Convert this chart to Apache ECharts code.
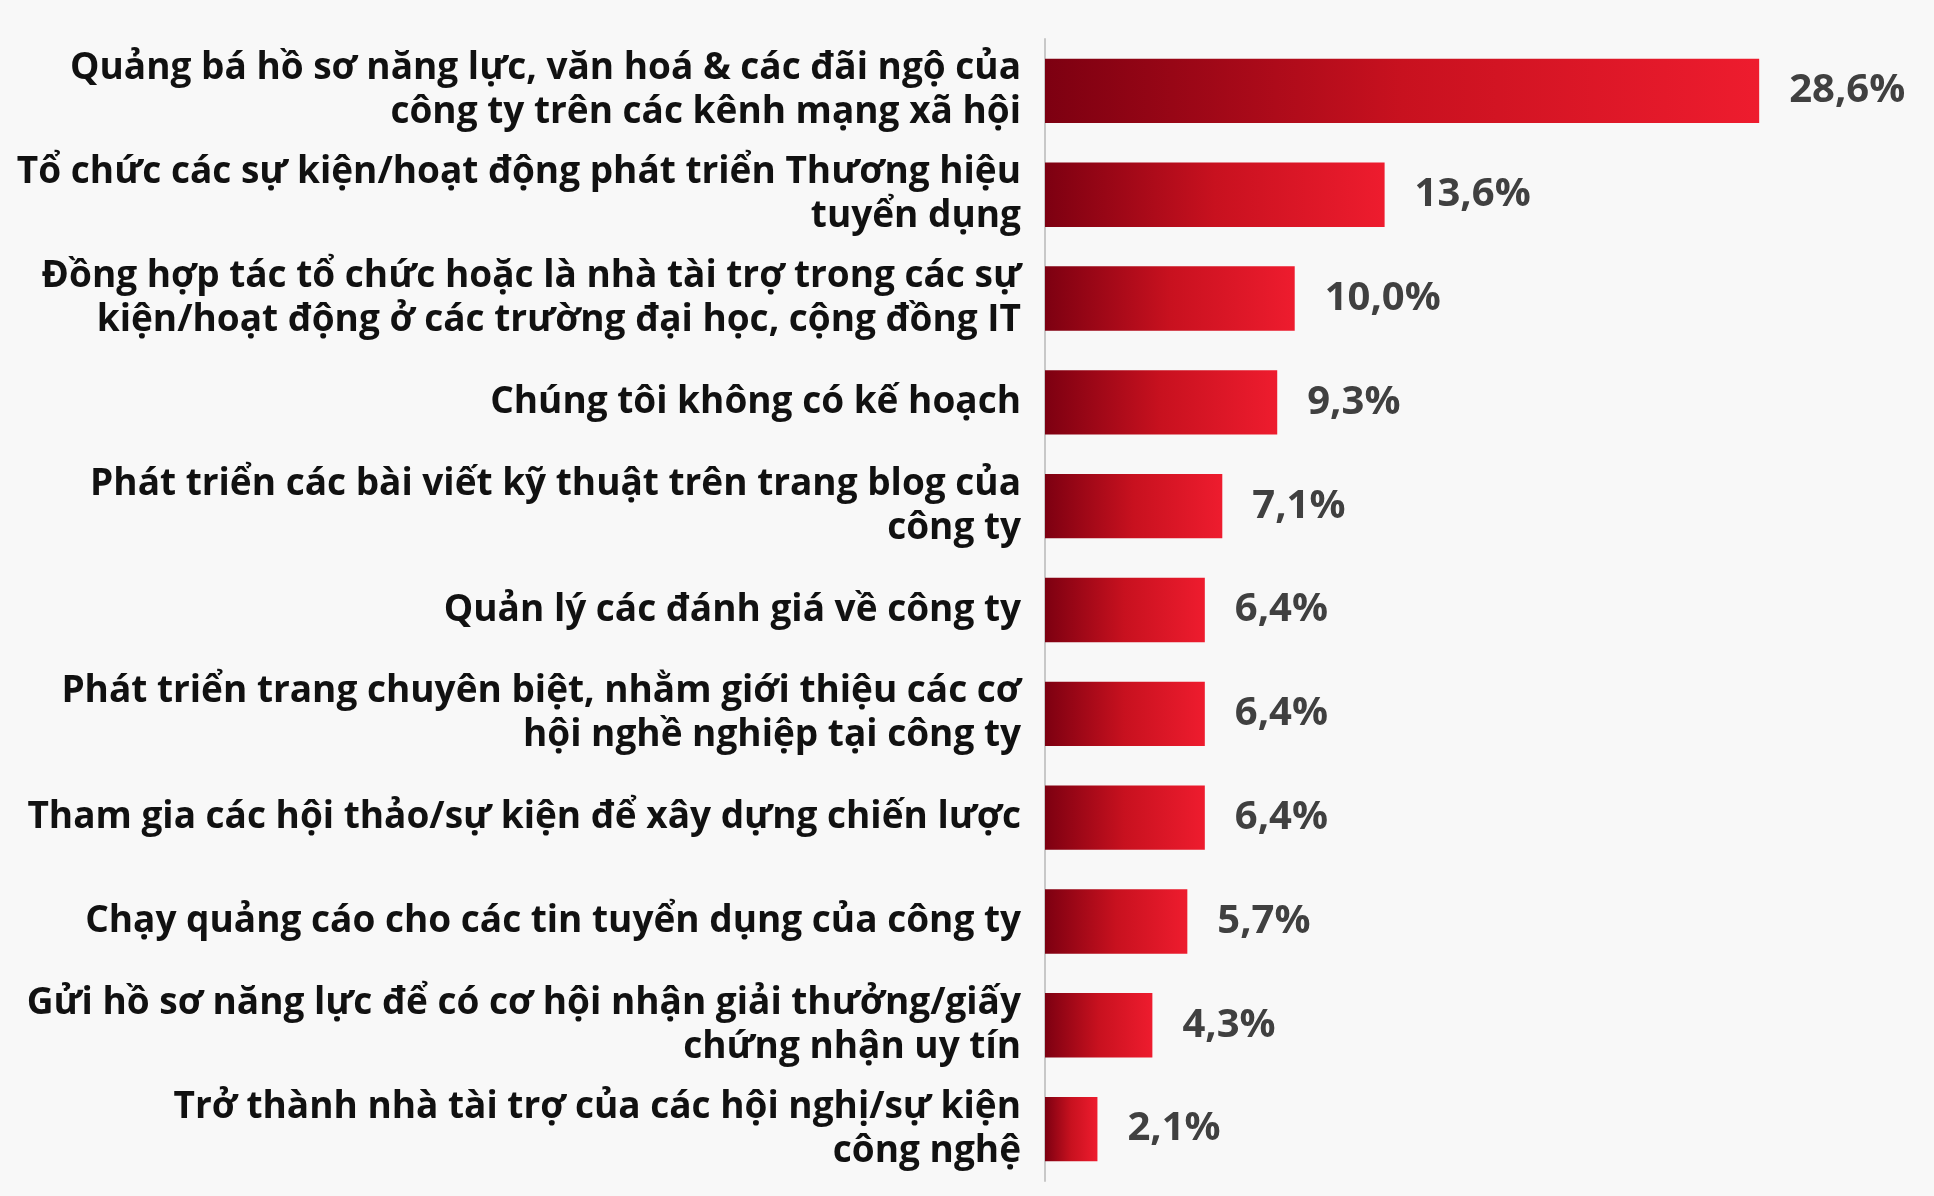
<!DOCTYPE html>
<html>
<head>
<meta charset="utf-8">
<script src="https://cdn.jsdelivr.net/npm/echarts@6/dist/echarts.min.js"></script>
<style>
html,body{margin:0;padding:0;background:#f8f8f8;}
#chart{width:1934px;height:1196px;}
</style>
</head>
<body>
<div id="chart"></div>
<script>
const categories = [
  "Quảng bá hồ sơ năng lực, văn hoá & các đãi ngộ của\ncông ty trên các kênh mạng xã hội",
  "Tổ chức các sự kiện/hoạt động phát triển Thương hiệu\ntuyển dụng",
  "Đồng hợp tác tổ chức hoặc là nhà tài trợ trong các sự\nkiện/hoạt động ở các trường đại học, cộng đồng IT",
  "Chúng tôi không có kế hoạch",
  "Phát triển các bài viết kỹ thuật trên trang blog của\ncông ty",
  "Quản lý các đánh giá về công ty",
  "Phát triển trang chuyên biệt, nhằm giới thiệu các cơ\nhội nghề nghiệp tại công ty",
  "Tham gia các hội thảo/sự kiện để xây dựng chiến lược",
  "Chạy quảng cáo cho các tin tuyển dụng của công ty",
  "Gửi hồ sơ năng lực để có cơ hội nhận giải thưởng/giấy\nchứng nhận uy tín",
  "Trở thành nhà tài trợ của các hội nghị/sự kiện\ncông nghệ"
];
const values = [28.6, 13.6, 10.0, 9.3, 7.1, 6.4, 6.4, 6.4, 5.7, 4.3, 2.1];

const chart = echarts.init(document.getElementById('chart'));
const grad = new echarts.graphic.LinearGradient(0, 0, 1, 0, [
  {offset: 0, color: '#7d0011'},
  {offset: 0.5, color: '#c8111f'},
  {offset: 1, color: '#ee1c2e'}
]);
chart.setOption({
  backgroundColor: '#f8f8f8',
  animation: false,
  grid: {left: 1045, right: 15, top: 39, bottom: 15, containLabel: false},
  xAxis: {
    type: 'value', min: 0, max: 35,
    show: false
  },
  yAxis: {
    type: 'category',
    inverse: true,
    data: categories,
    axisLine: {show: true, lineStyle: {color: '#c8c8c8', width: 2}},
    axisTick: {show: false},
    axisLabel: {
      margin: 24,
      align: 'right',
      fontFamily: 'Open Sans',
      fontWeight: 'bold',
      fontSize: 37,
      lineHeight: 44,
      color: '#111111'
    }
  },
  series: [{
    type: 'bar',
    data: values,
    barCategoryGap: '38%',
    itemStyle: {color: grad},
    label: {
      show: true,
      position: 'right',
      distance: 30,
      fontFamily: 'Open Sans',
      fontWeight: 'bold',
      fontSize: 40,
      color: '#404040',
      formatter: p => p.value.toFixed(1).replace('.', ',') + '%'
    }
  }]
});
</script>
</body>
</html>
